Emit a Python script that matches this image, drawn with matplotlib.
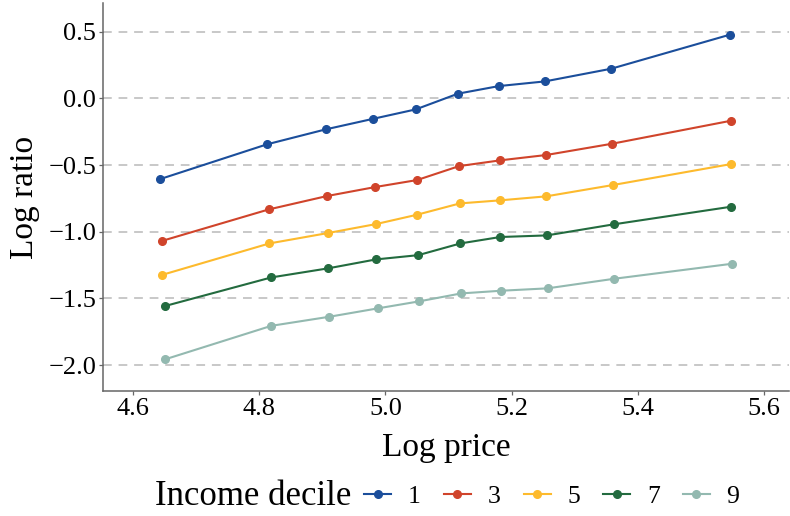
import numpy as np
import matplotlib
matplotlib.use("Agg")
import matplotlib.pyplot as plt
from matplotlib.lines import Line2D

plt.rcParams['font.family'] = ['Liberation Serif', 'DejaVu Serif']

# data
deciles = ['1', '3', '5', '7', '9']
colors = ['#1B4E9B', '#D0442B', '#FDBA2D', '#236B3F', '#93B9B0']

price_d1 = [4.643, 4.812, 4.905, 4.981, 5.048, 5.115, 5.180, 5.253, 5.358, 5.546]
price_d3 = [4.645, 4.815, 4.907, 4.984, 5.050, 5.117, 5.182, 5.255, 5.360, 5.548]
price_d5 = [4.645, 4.816, 4.909, 4.985, 5.050, 5.118, 5.182, 5.255, 5.361, 5.548]
price_d7 = [4.650, 4.819, 4.909, 4.985, 5.052, 5.119, 5.182, 5.256, 5.362, 5.548]
price_d9 = [4.650, 4.819, 4.911, 4.988, 5.053, 5.120, 5.183, 5.257, 5.363, 5.549]

ratio_d1 = [-0.605, -0.345, -0.233, -0.153, -0.083, 0.035, 0.092, 0.127, 0.222, 0.477]
ratio_d3 = [-1.070, -0.833, -0.733, -0.665, -0.613, -0.508, -0.465, -0.425, -0.340, -0.168]
ratio_d5 = [-1.325, -1.088, -1.010, -0.943, -0.873, -0.788, -0.765, -0.735, -0.650, -0.493]
ratio_d7 = [-1.558, -1.343, -1.275, -1.208, -1.176, -1.088, -1.040, -1.028, -0.945, -0.813]
ratio_d9 = [-1.958, -1.706, -1.638, -1.575, -1.523, -1.463, -1.443, -1.425, -1.353, -1.241]

prices = [price_d1, price_d3, price_d5, price_d7, price_d9]
ratios = [ratio_d1, ratio_d3, ratio_d5, ratio_d7, ratio_d9]

fig = plt.figure(figsize=(7.9, 5.16), dpi=100)
ax = fig.add_axes([0.1304, 0.2422, 0.8683, 0.752])

for yv in [0.5, 0.0, -0.5, -1.0, -1.5, -2.0]:
    ax.axhline(yv, color='#C8C8C8', lw=1.4, dashes=(4.5, 3.5), zorder=0)

handles = []
for d, c, x, y in zip(deciles, colors, prices, ratios):
    ax.plot(x, y, color=c, lw=1.5, marker='o', ms=5.5, zorder=3)
    handles.append(Line2D([], [], color=c, lw=1.5, marker='o', ms=5.5))

ax.set_xlim(4.552, 5.640)
ax.set_ylim(-2.195, 0.715)
ax.set_xticks([4.6, 4.8, 5.0, 5.2, 5.4, 5.6])
ax.set_yticks([0.5, 0.0, -0.5, -1.0, -1.5, -2.0])
ax.set_xticklabels(['4.6', '4.8', '5.0', '5.2', '5.4', '5.6'])
ax.set_yticklabels(['0.5', '0.0', '\u22120.5', '\u22121.0', '\u22121.5', '\u22122.0'])

for s in ['top', 'right']:
    ax.spines[s].set_visible(False)
for s in ['left', 'bottom']:
    ax.spines[s].set_color('#666666')
    ax.spines[s].set_linewidth(1.1)
ax.tick_params(axis='both', colors='#666666', length=3, width=0.9,
               labelsize=19, labelcolor='black', pad=2)

ax.set_xlabel('Log price', fontsize=24, labelpad=9)
ax.set_ylabel('Log ratio', fontsize=24, labelpad=6)

fig.text(0.196, 0.037, 'Income decile', fontsize=25, ha='left', va='center')
fig.legend(handles, deciles, loc='center left', bbox_to_anchor=(0.461, 0.037),
           ncol=5, frameon=False, fontsize=18.5, handlelength=1.05,
           handletextpad=0.65, columnspacing=0.9, borderaxespad=0, borderpad=0)

fig.savefig('out.png', dpi=100)
